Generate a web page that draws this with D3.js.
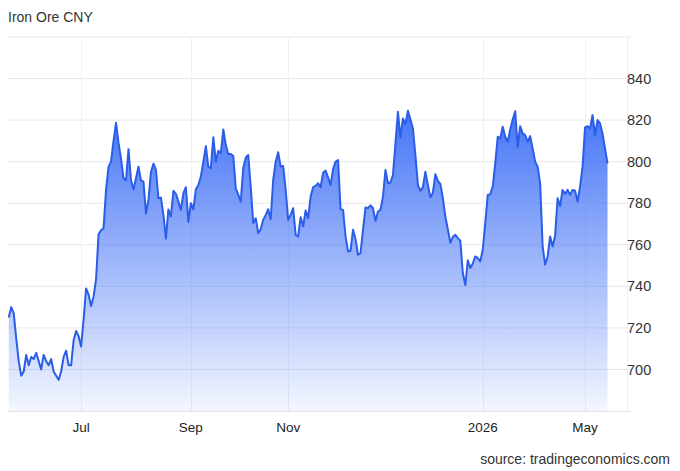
<!DOCTYPE html>
<meta charset="utf-8">
<body style="margin:0;background:#fff">

<script src="https://d3js.org/d3.v7.min.js"></script>

<script>

// daily closes, evenly spaced
var values = [
  725, 730, 727, 715, 704, 697, 699, 707, 702, 706, 705, 708, 704, 700, 707, 704, 702, 705, 699, 697,
  695, 699, 706, 709, 702, 702, 714, 718.5, 716, 711, 724, 739, 736, 730.5, 735, 743.5, 765, 767, 768,
  786.4, 797.6, 800, 810, 818.7, 809, 801.6, 792, 791, 806, 791, 786.7, 792, 797.6, 791, 790.4, 775,
  781.6, 795, 799, 796, 782.4, 782.7, 774.4, 763, 777, 773.6, 786, 784.5, 780.8, 776.8, 784.8, 787.7,
  771, 780, 777, 786.7, 788.8,
  792.8, 800, 807.5, 797.6, 796.8, 811.7, 800, 805.3, 804, 815.5, 808, 803.7, 803.7, 802.7, 787.2, 784,
  780.8, 797, 802, 803.2, 787.7, 770.4, 772.8, 765.6, 767.5, 772, 774.4, 777.1, 772.3, 791.2, 800,
  804.5, 797.6, 797.9, 786.4, 772, 774.4, 777.6, 764.8, 764,
  773.3, 768.8, 776.5, 772.8, 783.2, 787.7, 788.3, 789.6, 787.7, 794.7, 795.7, 792.5, 788.8, 796.3, 800,
  800.8, 777.1, 776.8, 764, 756.8, 757.1, 767.2, 762.7, 755.2, 756, 767.2, 778, 777.6, 779, 777.6,
  771.5, 776, 776.8, 783.2, 796, 789.6, 790, 793.6, 808.8, 824,
  811.7, 820.8, 818, 824.5, 820.3, 816, 803.2, 788.8, 786, 787.7, 795.2, 788.8, 782.9, 785, 794, 790.7,
  789.3, 782.4, 773.6, 767.5, 761, 763.7, 764.8, 763.2, 762, 746.4, 740.6, 752.5, 748.8, 751, 754.4,
  753.6, 752, 757.6, 770.4, 784, 784.3, 788, 799.2,
  812, 811.2, 816.8, 812, 809.6, 815.5, 820.3, 824.3, 807.2, 817.1, 813.6, 812.8, 809.6, 812.3, 806.4,
  800, 797.6, 789.6, 759.2, 750.4, 754.4, 764, 759.2, 764.3, 782.4, 778.7, 786.4, 784.5, 786.4, 784,
  786.4, 786, 780.8, 788, 797.6, 816.5, 817.1, 816, 822.4, 812.8, 820, 818.4, 813.6, 806.4, 799.2
];
var xTickIdx = [29, 73, 112, 190, 231];
var xTickLabels = ['Jul', 'Sep', 'Nov', '2026', 'May'];
var yTicks = [700, 720, 740, 760, 780, 800, 820, 840];

var W = 680, H = 471;
var P = {l: 8, r: 627, t: 37, b: 411};
var FONT = '"Liberation Sans", Arial, Helvetica, sans-serif';

var svg = d3.select('body').append('svg')
    .attr('width', W)
    .attr('height', H)
    .style('display', 'block');

var x = d3.scaleLinear().domain([-0.3, 241]).range([P.l, 610]);
var y = d3.scaleLinear().domain([680, 860]).range([P.b, P.t]);

// gradient under the line
var grad = svg.append('defs').append('linearGradient')
    .attr('id', 'fade')
    .attr('gradientUnits', 'userSpaceOnUse')
    .attr('x1', 0).attr('x2', 0)
    .attr('y1', y(826)).attr('y2', P.b);
grad.append('stop').attr('offset', 0).attr('stop-color', '#3a6cf6').attr('stop-opacity', 0.95);
grad.append('stop').attr('offset', 0.5).attr('stop-color', '#3a6cf6').attr('stop-opacity', 0.5);
grad.append('stop').attr('offset', 1).attr('stop-color', '#3a6cf6').attr('stop-opacity', 0.06);

// grid
var g = svg.append('g');
g.selectAll('.hg').data(yTicks.concat([860])).enter().append('line')
    .attr('x1', P.l).attr('x2', P.r + 4)
    .attr('y1', d => y(d)).attr('y2', d => y(d))
    .attr('stroke', '#e8e8ec').attr('stroke-width', 1);
g.selectAll('.vg').data(xTickIdx).enter().append('line')
    .attr('x1', d => Math.round(x(d)) + 0.5).attr('x2', d => Math.round(x(d)) + 0.5)
    .attr('y1', P.t).attr('y2', P.b)
    .attr('stroke', '#eef0f8').attr('stroke-width', 1);
g.append('line')
    .attr('x1', P.r + 0.5).attr('x2', P.r + 0.5)
    .attr('y1', P.t).attr('y2', P.b)
    .attr('stroke', '#eef0f8');

// area + line
svg.append('path')
    .datum(values)
    .attr('fill', 'url(#fade)')
    .attr('d', d3.area().x((d, i) => x(i)).y0(P.b).y1(d => y(d)));
svg.append('path')
    .datum(values)
    .attr('fill', 'none')
    .attr('stroke', '#2a5de8')
    .attr('stroke-width', 2)
    .attr('stroke-linejoin', 'round')
    .attr('d', d3.line().x((d, i) => x(i)).y(d => y(d)));

// bottom axis line
svg.append('line')
    .attr('x1', P.l).attr('x2', P.r + 4)
    .attr('y1', P.b + 0.5).attr('y2', P.b + 0.5)
    .attr('stroke', '#e3e3e6');

// y labels on the right
svg.selectAll('.yl').data(yTicks).enter().append('text')
    .attr('x', 627)
    .attr('y', d => y(d))
    .attr('dy', '0.35em')
    .attr('font-family', FONT)
    .attr('font-size', 14.5)
    .attr('fill', '#333')
    .text(d => d);

// x labels
svg.selectAll('.xl').data(xTickIdx).enter().append('text')
    .attr('x', d => x(d))
    .attr('y', 432)
    .attr('text-anchor', 'middle')
    .attr('font-family', FONT)
    .attr('font-size', 13.5)
    .attr('fill', '#222')
    .text((d, i) => xTickLabels[i]);

svg.append('text')
    .attr('x', 8).attr('y', 22)
    .attr('font-family', FONT)
    .attr('font-size', 14)
    .attr('fill', '#333')
    .text('Iron Ore CNY');

svg.append('text')
    .attr('x', 670).attr('y', 464)
    .attr('text-anchor', 'end')
    .attr('font-family', FONT)
    .attr('font-size', 14)
    .attr('fill', '#333')
    .text('source: tradingeconomics.com');

</script>
</body>
</html>
